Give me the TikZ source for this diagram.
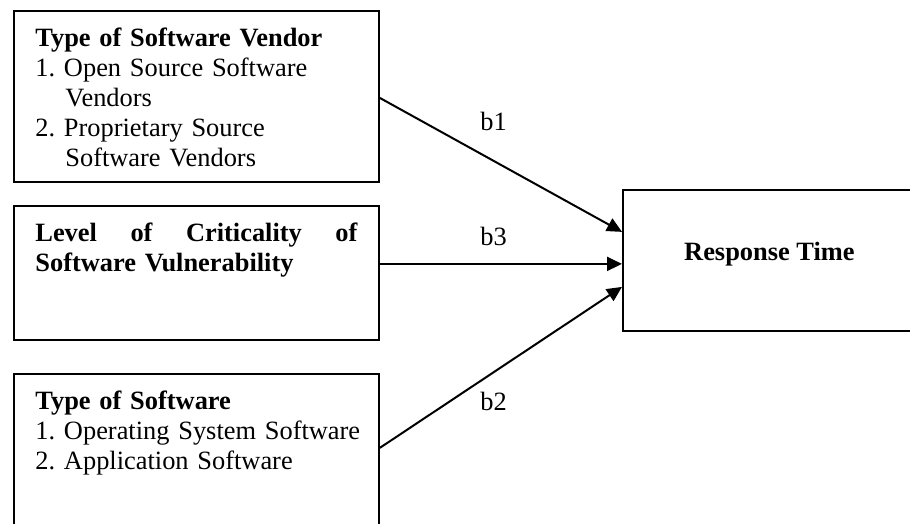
\documentclass[tikz,border=0pt]{standalone}
\usepackage{fontspec}
\setmainfont{Liberation Serif}
\usetikzlibrary{arrows.meta,positioning}
\frenchspacing

\tikzset{
  box/.style={draw, line width=0.9pt, inner sep=0pt, anchor=north west},
  boxtext/.style={inner sep=0pt, anchor=north west, text width=175pt, align=left,
    font=\fontsize{13.2pt}{15pt}\selectfont},
  arr/.style={line width=1pt, -{Triangle[length=7.5pt,width=7pt]}},
  coef/.style={inner sep=0pt, font=\fontsize{13.2pt}{15pt}\selectfont},
}

\begin{document}
\begin{tikzpicture}[x=0.5pt, y=-0.5pt]
  \useasboundingbox (0,0) rectangle (910,524);
  \clip (0,0) rectangle (910,524);
  % predictors
  \node[box, minimum width=182.5pt, minimum height=85.5pt] (vendor) at (13,10) {};
  \node[box, minimum width=182.5pt, minimum height=67pt] (crit) at (13,205) {};
  \node[box, minimum width=182.5pt, minimum height=80pt] (softw) at (13,373) {};
  % outcome
  \node[box, minimum width=146.5pt, minimum height=70.5pt] (resp) at (622,189) {};

  \node[boxtext] (vendortxt) at ([xshift=11pt,yshift=-7.5pt]vendor.north west)
    {\strut\textbf{Type of Software Vendor}\\1. Open Source Software\\\hspace*{15pt}Vendors\\2. Proprietary Source\\\hspace*{15pt}Software Vendors};
  \node[boxtext] (crittxt) at ([xshift=11pt,yshift=-7.5pt]crit.north west)
    {\strut\hbox to 161pt{\bfseries Level\hfill of\hfill Criticality\hfill of}\\\textbf{Software Vulnerability}};
  \node[boxtext] (softwtxt) at ([xshift=11pt,yshift=-7.5pt]softw.north west)
    {\strut\textbf{Type of Software}\\1. Operating System Software\\2. Application Software};
  \node[coef, font=\fontsize{13.2pt}{15pt}\selectfont\bfseries] (resptxt) at ([yshift=3pt]resp.center) {Response Time};

  % paths
  \coordinate (b3s) at ([yshift=4.5pt]crit.east);
  \draw[arr] ([yshift=-0.75pt]vendor.east) -- ([yshift=14.25pt]resp.west)
    node[coef, pos=0.47, above=14.5pt] (b1) {b1};
  \draw[arr] (b3s) -- (b3s -| resp.west)
    node[coef, pos=0.47, above=8.7pt] (b3) {b3};
  \draw[arr] ([yshift=3pt]softw.east) -- ([yshift=-13.25pt]resp.west)
    node[coef, pos=0.47, below=9.7pt] (b2) {b2};
\end{tikzpicture}
\end{document}
